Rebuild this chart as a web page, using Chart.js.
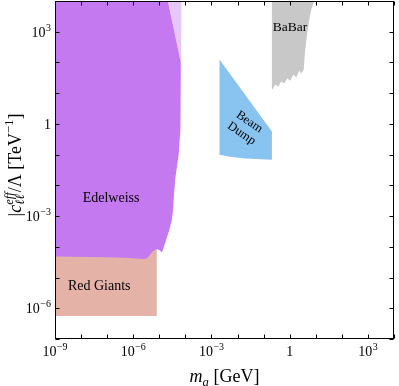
<!DOCTYPE html>
<html>
<head>
<meta charset="utf-8">
<style>
  html, body { margin: 0; padding: 0; background: #fff; }
</style>
</head>
<body>
<div>
  <canvas id="chartId" width="399" height="386"></canvas>
</div>
<script src="https://cdn.jsdelivr.net/npm/chart.js"></script>
<script>
// axis ranges (GeV, TeV^-1)
const xRange = [1e-9, 1e4];
const yRange = [1e-7, 1e4];

// one tick per decade, labels every third decade
const xTickValues = [1e-9, 1e-8, 1e-7, 1e-6, 1e-5, 1e-4, 1e-3, 1e-2, 1e-1, 1, 1e1, 1e2, 1e3, 1e4];
const yTickValues = [1e-7, 1e-6, 1e-5, 1e-4, 1e-3, 1e-2, 1e-1, 1, 1e1, 1e2, 1e3, 1e4];
const xLabelValues = [1e-9, 1e-6, 1e-3, 1, 1e3];
const xLabelBases = ['10', '10', '10', '1', '10'];
const xLabelPowers = ['−9', '−6', '−3', '', '3'];
const yLabelValues = [1e-6, 1e-3, 1, 1e3];
const yLabelBases = ['10', '10', '1', '10'];
const yLabelPowers = ['−6', '−3', '', '3'];

// excluded regions (mass in GeV, coupling in TeV^-1)
const edelweissMass = [1e-9, 2.12e-5, 6.7e-5, 6.46e-5, 5.5e-5, 4.05e-5, 3.54e-5, 3.39e-5, 3.02e-5, 2.44e-5, 1.82e-5, 1.44e-5, 1.25e-5, 1.01e-5, 8.0e-6, 5.8e-6, 4.4e-6, 3.4e-6, 1e-9];
const edelweissCoupling = [1e4, 1e4, 97, 0.65, 0.1, 0.0152, 3.39e-3, 1.6e-3, 7.55e-4, 3.56e-4, 1.68e-4, 9.0e-5, 6.5e-5, 7.9e-5, 8.3e-5, 7.0e-5, 5.2e-5, 4.0e-5, 4.0e-5];

const edelweissWeakMass = [2.12e-5, 7.05e-5, 6.9e-5, 6.7e-5];
const edelweissWeakCoupling = [1e4, 1e4, 100, 97];

const redGiantsMass = [1e-9, 9.7e-8, 4.9e-7, 2.45e-6, 3.4e-6, 4.43e-6, 5.78e-6, 8.0e-6, 8.0e-6, 1e-9];
const redGiantsCoupling = [4.8e-5, 4.6e-5, 4.37e-5, 4.05e-5, 4.2e-5, 5.46e-5, 7.37e-5, 8.26e-5, 5.6e-7, 5.6e-7];

const beamDumpMass = [2.03e-3, 0.208, 0.208, 0.0197, 5.2e-3, 2.03e-3];
const beamDumpCoupling = [124, 0.57, 0.0682, 0.0751, 0.0855, 0.0993];

const babarMass = [0.208, 8.75, 6.72, 5.63, 4.72, 3.96, 3.62, 3.46, 2.77, 2.33, 1.79, 1.37, 1.05, 0.805, 0.617, 0.473, 0.363, 0.279, 0.214, 0.208];
const babarCoupling = [1e4, 1e4, 5280, 2490, 940, 262, 107, 58.5, 43.4, 54.3, 32.1, 40.2, 25.6, 29.8, 20.5, 23.8, 16.3, 19.0, 13.0, 13.0];

// region names and where they sit
const regionNames = ['Edelweiss', 'Red Giants', 'BaBar'];
const regionNameMass = [1.41e-7, 4.98e-8, 1.02];
const regionNameCoupling = [2.77e-3, 3.94e-6, 1038];

const serif = "'Liberation Serif', 'DejaVu Serif', serif";
Chart.defaults.color = '#000';

const chartCanvas = document.getElementById('chartId');

function toPoints(xs, ys) {
    return xs.map((x, i) => ({ x: x, y: ys[i] }));
}

function region(xs, ys, color) {
    return {
        data: toPoints(xs, ys),
        showLine: true,
        fill: 'shape',
        backgroundColor: color,
        borderWidth: 0,
        borderColor: color,
        pointRadius: 0,
        pointHoverRadius: 0
    };
}

// draws text parts left to right, with sub / sup parts
function richWidth(ctx, parts, size) {
    let w = 0;
    parts.forEach(p => {
        if (p.stack) {
            ctx.font = `italic ${size * 0.7}px ${serif}`;
            w += Math.max(ctx.measureText(p.sup).width, ctx.measureText(p.sub).width);
        } else {
            const s = (p.sub || p.sup) ? size * 0.7 : size;
            ctx.font = `${p.italic ? 'italic ' : ''}${s}px ${serif}`;
            w += ctx.measureText(p.t).width;
        }
    });
    return w;
}

function drawRich(ctx, parts, size, x, y) {
    parts.forEach(p => {
        if (p.stack) {
            ctx.font = `italic ${size * 0.7}px ${serif}`;
            ctx.fillText(p.sup, x, y - size * 0.42);
            ctx.fillText(p.sub, x, y + size * 0.22);
            x += Math.max(ctx.measureText(p.sup).width, ctx.measureText(p.sub).width);
        } else {
            const s = (p.sub || p.sup) ? size * 0.7 : size;
            ctx.font = `${p.italic ? 'italic ' : ''}${s}px ${serif}`;
            const dy = p.sub ? size * 0.22 : (p.sup ? -size * 0.42 : 0);
            ctx.fillText(p.t, x, y + dy);
            x += ctx.measureText(p.t).width;
        }
    });
}

// tick label "10" with a raised power
function powerWidth(ctx, base, power) {
    ctx.font = `14px ${serif}`;
    let w = ctx.measureText(base).width;
    if (power) {
        ctx.font = `10px ${serif}`;
        w += ctx.measureText(power).width + 0.5;
    }
    return w;
}

function drawPower(ctx, base, power, x, y) {
    ctx.font = `14px ${serif}`;
    ctx.fillText(base, x, y);
    if (power) {
        const w = ctx.measureText(base).width + 0.5;
        ctx.font = `10px ${serif}`;
        ctx.fillText(power, x + w, y - 6);
    }
}

const xTitle = [{ t: 'm', italic: true }, { t: 'a', italic: true, sub: true }, { t: ' [GeV]' }];
const yTitle = [{ t: '|' }, { t: 'c', italic: true }, { stack: true, sup: 'eff', sub: 'ℓℓ' },
                { t: '/Λ [TeV' }, { t: '−1', sup: true }, { t: ']' }];

const decorations = {
    id: 'decorations',
    afterDatasetsDraw(chart) {
        const { ctx, chartArea: a, scales } = chart;
        ctx.save();
        ctx.fillStyle = '#000';
        ctx.textAlign = 'left';
        ctx.textBaseline = 'alphabetic';

        // region names
        regionNames.forEach((name, i) => {
            const px = scales.x.getPixelForValue(regionNameMass[i]);
            const py = scales.y.getPixelForValue(regionNameCoupling[i]);
            ctx.font = `${name === 'BaBar' ? 13.5 : 14}px ${serif}`;
            ctx.fillText(name, px - ctx.measureText(name).width / 2, py);
        });

        // rotated beam dump label
        ctx.save();
        ctx.translate(scales.x.getPixelForValue(0.02), scales.y.getPixelForValue(0.75));
        ctx.rotate(34 * Math.PI / 180);
        ctx.font = `12.5px ${serif}`;
        ctx.textAlign = 'center';
        ctx.textBaseline = 'middle';
        ctx.fillText('Beam', 0, -7);
        ctx.fillText('Dump', 0, 7);
        ctx.restore();

        // frame and inward ticks on all sides
        ctx.strokeStyle = '#000';
        ctx.lineWidth = 1;
        const L = a.left + 0.5, R = a.right - 0.5, T = a.top + 0.5, B = a.bottom - 0.5;
        ctx.strokeRect(L, T, R - L, B - T);
        ctx.beginPath();
        scales.x.ticks.forEach(t => {
            const px = Math.round(scales.x.getPixelForValue(t.value)) + 0.5;
            ctx.moveTo(px, B); ctx.lineTo(px, B - 4);
            ctx.moveTo(px, T); ctx.lineTo(px, T + 4);
        });
        scales.y.ticks.forEach(t => {
            const py = Math.round(scales.y.getPixelForValue(t.value)) + 0.5;
            ctx.moveTo(L, py); ctx.lineTo(L + 4, py);
            ctx.moveTo(R, py); ctx.lineTo(R - 4, py);
        });
        ctx.stroke();

        // tick labels
        xLabelValues.forEach((v, i) => {
            const px = scales.x.getPixelForValue(v);
            const w = powerWidth(ctx, xLabelBases[i], xLabelPowers[i]);
            drawPower(ctx, xLabelBases[i], xLabelPowers[i], px - w / 2, a.bottom + 17);
        });
        yLabelValues.forEach((v, i) => {
            const py = scales.y.getPixelForValue(v);
            const w = powerWidth(ctx, yLabelBases[i], yLabelPowers[i]);
            drawPower(ctx, yLabelBases[i], yLabelPowers[i], a.left - 4 - w, py + 5);
        });

        // axis titles
        const size = 18;
        const xw = richWidth(ctx, xTitle, size);
        drawRich(ctx, xTitle, size, (a.left + a.right) / 2 - xw / 2, 382);

        ctx.save();
        ctx.translate(20.5, (a.top + a.bottom) / 2 - 5);
        ctx.rotate(-Math.PI / 2);
        const yw = richWidth(ctx, yTitle, size);
        drawRich(ctx, yTitle, size, -yw / 2, 0);
        ctx.restore();

        ctx.restore();
    }
};

function fixBox(size, isX) {
    return scale => {
        if (isX) scale.height = size; else scale.width = size;
        scale.paddingTop = 0; scale.paddingBottom = 0;
        scale.paddingLeft = 0; scale.paddingRight = 0;
    };
}

new Chart(chartCanvas, {
    type: 'scatter',
    data: {
        datasets: [
            region(redGiantsMass, redGiantsCoupling, 'rgb(229,178,168)'),
            region(edelweissMass, edelweissCoupling, 'rgb(197,121,240)'),
            region(edelweissWeakMass, edelweissWeakCoupling, 'rgb(230,200,247)'),
            region(beamDumpMass, beamDumpCoupling, 'rgb(137,195,240)'),
            region(babarMass, babarCoupling, 'rgb(200,200,200)')
        ]
    },
    options: {
        responsive: false,
        animation: false,
        devicePixelRatio: 1,
        layout: { padding: { top: 1, right: 5, left: 0, bottom: 0 } },
        plugins: {
            legend: { display: false },
            tooltip: { enabled: false }
        },
        events: [],
        scales: {
            x: {
                type: 'logarithmic',
                min: xRange[0],
                max: xRange[1],
                afterBuildTicks: scale => { scale.ticks = xTickValues.map(v => ({ value: v })); },
                afterFit: fixBox(47, true),
                grid: { display: false, drawTicks: false },
                border: { display: false },
                ticks: { display: false }
            },
            y: {
                type: 'logarithmic',
                min: yRange[0],
                max: yRange[1],
                afterBuildTicks: scale => { scale.ticks = yTickValues.map(v => ({ value: v })); },
                afterFit: fixBox(55, false),
                grid: { display: false, drawTicks: false },
                border: { display: false },
                ticks: { display: false }
            }
        }
    },
    plugins: [decorations]
});
</script>
</body>
</html>
